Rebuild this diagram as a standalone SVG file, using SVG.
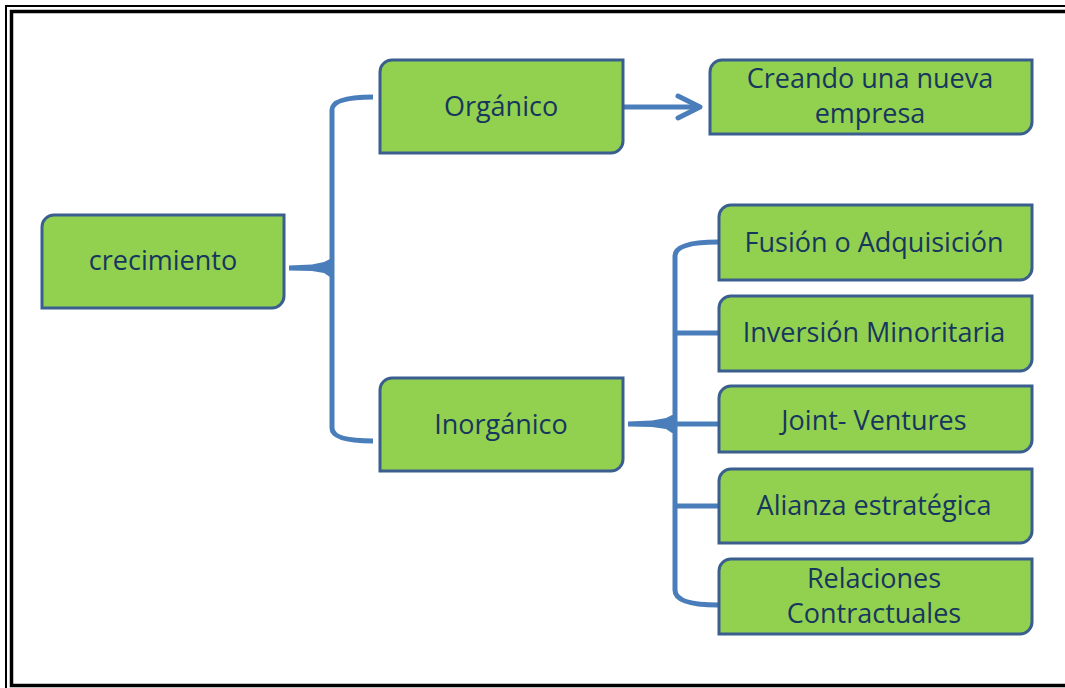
<svg xmlns="http://www.w3.org/2000/svg" width="1065" height="688" viewBox="0 0 1065 688">
<style>
.node path{fill:#92D050;stroke:#3A5F8F;stroke-width:3;}
.node text{font-family:"Open Sans","Noto Sans",sans-serif;font-size:27px;fill:#17365D;text-anchor:middle;}
.conn{fill:none;stroke:#4A7EBB;stroke-width:5;}
.tip{fill:#4A7EBB;stroke:none;}
</style>
<rect width="1065" height="688" fill="#ffffff"/>
<g id="frame" fill="none" stroke="#000">
<rect x="6" y="6" width="1100" height="700" stroke-width="2"/>
<rect x="11.5" y="11.5" width="1100" height="674" stroke-width="3.5"/>
</g>
<g id="connectors">
<path class="conn" d="M373,97 Q332,97 332,110 V428 Q332,441 373,441"/>
<path class="tip" d="M289,265.5 L312,264.5 L324,262 L330,259 L334,259 L334,277 L330,277 L324,273 L312,271 L289,270.5 Z"/>
<path class="conn" d="M718,242 Q675,242 675,256 V590 Q675,605 718,605"/>
<path class="tip" d="M628,421.5 L652,420.5 L666,418 L672,415 L677,415 L677,433 L672,433 L666,429 L652,427 L628,426.5 Z"/>
<path class="conn" d="M675,333 H718 M675,424 H718 M675,506 H718"/>
<path class="conn" d="M624,107 H697" stroke-width="6"/>
<path class="conn" d="M678,96 L700,107 L678,118" stroke-width="6" stroke-linejoin="round" stroke-linecap="round"/>
</g>
<g id="n-crecimiento" class="node">
<path d="M54,215 H284 V296 A12,12 0 0 1 272,308 H42 V227 A12,12 0 0 1 54,215 Z"/>
<text x="163" y="270">crecimiento</text>
</g>
<g id="n-organico" class="node">
<path d="M392,60 H623 V141 A12,12 0 0 1 611,153 H380 V72 A12,12 0 0 1 392,60 Z"/>
<text x="501" y="116">Orgánico</text>
</g>
<g id="n-inorganico" class="node">
<path d="M392,378 H623 V459 A12,12 0 0 1 611,471 H380 V390 A12,12 0 0 1 392,378 Z"/>
<text x="501" y="434">Inorgánico</text>
</g>
<g id="n-creando" class="node">
<path d="M722,60 H1032 V122 A12,12 0 0 1 1020,134 H710 V72 A12,12 0 0 1 722,60 Z"/>
<text x="870" y="88">Creando una nueva</text>
<text x="870" y="123">empresa</text>
</g>
<g id="n-fusion" class="node">
<path d="M731,205 H1032 V268 A12,12 0 0 1 1020,280 H719 V217 A12,12 0 0 1 731,205 Z"/>
<text x="874" y="252">Fusión o Adquisición</text>
</g>
<g id="n-inversion" class="node">
<path d="M731,296 H1032 V359 A12,12 0 0 1 1020,371 H719 V308 A12,12 0 0 1 731,296 Z"/>
<text x="874" y="342">Inversión Minoritaria</text>
</g>
<g id="n-joint" class="node">
<path d="M731,386 H1032 V440 A12,12 0 0 1 1020,452 H719 V398 A12,12 0 0 1 731,386 Z"/>
<text x="874" y="430">Joint- Ventures</text>
</g>
<g id="n-alianza" class="node">
<path d="M731,469 H1032 V531 A12,12 0 0 1 1020,543 H719 V481 A12,12 0 0 1 731,469 Z"/>
<text x="874" y="515">Alianza estratégica</text>
</g>
<g id="n-relaciones" class="node">
<path d="M731,559 H1032 V622 A12,12 0 0 1 1020,634 H719 V571 A12,12 0 0 1 731,559 Z"/>
<text x="874" y="588">Relaciones</text>
<text x="874" y="623">Contractuales</text>
</g>
</svg>
